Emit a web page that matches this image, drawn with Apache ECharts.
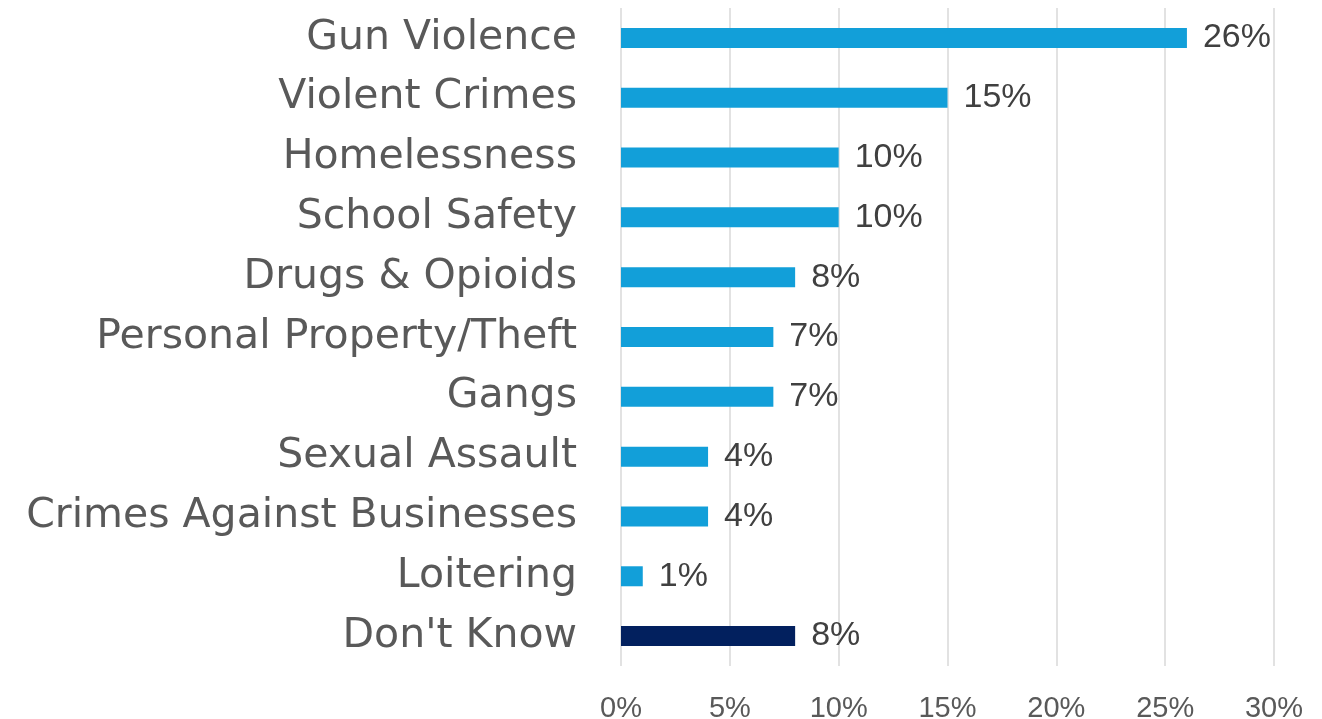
<!DOCTYPE html>
<html>
<head>
<meta charset="utf-8">
<script src="https://cdn.jsdelivr.net/npm/echarts@6/dist/echarts.min.js"></script>
<style>
html,body{margin:0;padding:0;background:#fff;}
#chart{width:1322px;height:719px;}
</style>
</head>
<body>
<div id="chart"></div>
<script>
const categories = ["Gun Violence","Violent Crimes","Homelessness","School Safety","Drugs & Opioids","Personal Property/Theft","Gangs","Sexual Assault","Crimes Against Businesses","Loitering","Don't Know"];
const values = [26,15,10,10,8,7,7,4,4,1,8];
const highlightCategory = "Don't Know";
const xTicks = [0,5,10,15,20,25,30];

const chart = echarts.init(document.getElementById('chart'));
chart.setOption({
  animation:false,
  grid:{left:621,right:48,top:8,bottom:53,containLabel:false,outerBoundsMode:'none'},
  xAxis:{
    type:'value',min:xTicks[0],max:xTicks[xTicks.length-1],interval:xTicks[1]-xTicks[0],
    axisLine:{show:false},axisTick:{show:false},
    splitLine:{show:true,lineStyle:{color:'#d9d9d9',width:1.5}},
    axisLabel:{formatter:v=>v+'%',color:'#595959',fontFamily:'Liberation Sans',fontSize:29,margin:28}
  },
  yAxis:{
    type:'category',data:categories,inverse:true,
    axisLine:{show:false},axisTick:{show:false},
    axisLabel:{color:'#595959',fontFamily:'DejaVu Sans',fontSize:41,margin:44,padding:[9,0,0,0]}
  },
  series:[{
    type:'bar',
    barWidth:20,
    data:values.map((v,i)=>({value:v,itemStyle:{color:categories[i]===highlightCategory?'#02205E':'#129FD9'}})),
    label:{show:true,position:'right',distance:16,formatter:p=>p.value+'%',color:'#404040',fontFamily:'Liberation Sans',fontSize:34,padding:[4,0,0,0]}
  }]
});
</script>
</body>
</html>
